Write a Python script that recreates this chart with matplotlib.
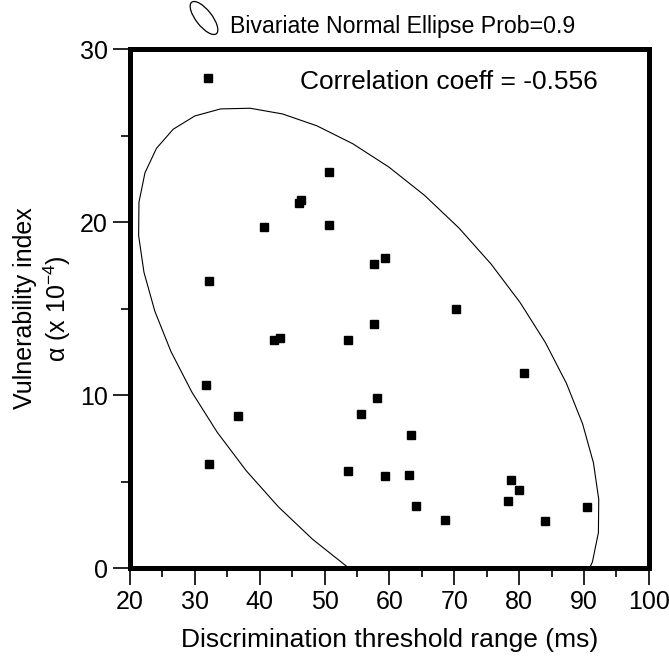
#!/usr/bin/env python3
import numpy as np
import matplotlib

matplotlib.use('Agg')
import matplotlib.pyplot as plt
from matplotlib.patches import Ellipse
from matplotlib.ticker import MultipleLocator

# discrimination threshold range (ms) vs vulnerability index (x 1e-4)
thresholdRange = [32.0, 50.7, 46.1, 46.4, 40.7, 50.7, 57.6, 59.3, 32.2, 57.6,
                  31.7, 36.6, 32.2, 42.2, 43.1, 53.6, 58.1, 55.6, 53.6, 59.3,
                  70.3, 80.7, 63.3, 63.0, 64.1, 68.6, 78.7, 80.0, 78.3, 84.0, 90.4]
vulnIndex = [28.3, 22.9, 21.1, 21.25, 19.7, 19.8, 17.6, 17.9, 16.6, 14.1,
             10.6, 8.8, 6.0, 13.2, 13.3, 13.2, 9.8, 8.9, 5.6, 5.3,
             15.0, 11.3, 7.7, 5.4, 3.6, 2.8, 5.1, 4.5, 3.9, 2.7, 3.5]
ellipseProb = 0.9
corrCoeff = -0.556

plt.rcParams['font.family'] = ['Liberation Sans', 'DejaVu Sans']
plt.rcParams['mathtext.fontset'] = 'custom'
plt.rcParams['mathtext.rm'] = 'Liberation Sans'
plt.rcParams['mathtext.it'] = 'Liberation Sans'

fig = plt.figure(figsize=(6.69, 6.56), dpi=100)
ax = fig.add_axes([0.1943, 0.1341, 0.7757, 0.7912])

x = np.array(thresholdRange)
y = np.array(vulnIndex)

# bivariate normal density ellipse from the sample mean / covariance
mean = np.array([x.mean(), y.mean()])
cov = np.cov(x, y)
vals, vecs = np.linalg.eigh(cov)
scale = np.sqrt(-2.0 * np.log(1.0 - ellipseProb))
t = np.linspace(0, 2 * np.pi, 41)
circle = np.vstack([np.cos(t), np.sin(t)])
pts = vecs @ (np.sqrt(vals)[:, None] * circle) * scale + mean[:, None]
ax.plot(pts[0], pts[1], color='black', lw=0.8)

ax.plot(x, y, 's', color='black', markersize=5.5)

ax.text(92.1, 27.7, "Correlation coeff = %.3f" % corrCoeff, fontsize=19,
        ha='right', va='baseline')

ax.set_xlim(20, 100)
ax.set_ylim(0, 30)
ax.xaxis.set_major_locator(MultipleLocator(10))
ax.xaxis.set_minor_locator(MultipleLocator(5))
ax.yaxis.set_major_locator(MultipleLocator(10))
ax.yaxis.set_minor_locator(MultipleLocator(5))
ax.tick_params(which='major', length=12, width=1.2, labelsize=18, pad=4)
ax.tick_params(which='minor', length=6.5, width=1.2)
for sp in ax.spines.values():
    sp.set_linewidth(3.6)

ax.set_xlabel("Discrimination threshold range (ms)", fontsize=19, labelpad=10)
ax.set_ylabel("Vulnerability index\n\u03b1 (x 10$^{-4}$)", fontsize=18,
              linespacing=1.2)
ax.yaxis.set_label_coords(-0.11, 0.5)

# legend-like header with small ellipse icon
icon = Ellipse((2.04, 6.38), 0.40, 0.16, angle=-52, transform=fig.dpi_scale_trans,
               fill=False, edgecolor='black', lw=0.9)
fig.add_artist(icon)
fig.text(230 / 669, 1 - 33 / 656, "Bivariate Normal Ellipse Prob=0.9",
         fontsize=16.7, va='baseline', ha='left')

plt.savefig("out.png", dpi=100)
plt.close()
